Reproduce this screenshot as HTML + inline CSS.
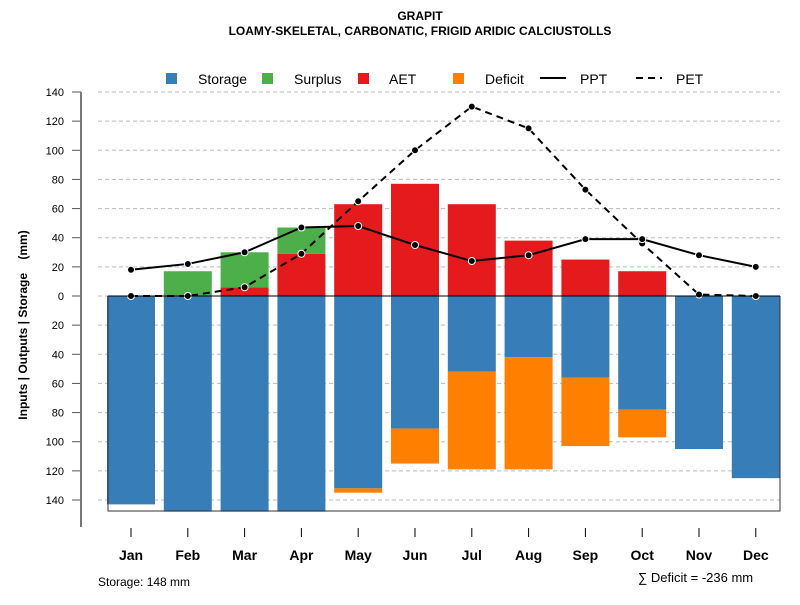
<!DOCTYPE html>
<html><head><meta charset="utf-8"><style>
body{margin:0;background:#fff;}
svg{font-family:"Liberation Sans",sans-serif;}
</style></head><body>
<svg id="c" width="800" height="600">
<text x="420" y="20" text-anchor="middle" font-size="12" font-weight="bold">GRAPIT</text>
<text x="420" y="35" text-anchor="middle" font-size="12" font-weight="bold">LOAMY-SKELETAL, CARBONATIC, FRIGID ARIDIC CALCIUSTOLLS</text>
<g id="grid"></g><g id="bars"></g><g id="lines"></g><g id="axes"></g>
<g font-size="14">
<rect x="166" y="73" width="11" height="11" fill="#377eb8"/><text x="198" y="84">Storage</text>
<rect x="262" y="73" width="11" height="11" fill="#4daf4a"/><text x="294" y="84">Surplus</text>
<rect x="358" y="73" width="11" height="11" fill="#e41a1c"/><text x="389" y="84">AET</text>
<rect x="453" y="73" width="11" height="11" fill="#ff7f00"/><text x="485" y="84">Deficit</text>
<line x1="540" y1="78" x2="566" y2="78" stroke="#000" stroke-width="2"/><text x="580" y="84">PPT</text>
<line x1="636" y1="78" x2="662" y2="78" stroke="#000" stroke-width="2" stroke-dasharray="7,5"/><text x="676" y="84">PET</text>
</g>
<text transform="translate(27,325) rotate(-90)" text-anchor="middle" font-size="12" font-weight="bold" style="white-space:pre">Inputs | Outputs | Storage    (mm)</text>
<text x="98" y="586" font-size="12">Storage: 148 mm</text>
<text x="638" y="582" font-size="13">∑ Deficit = -236 mm</text>
</svg>
<script>
const months=["Jan","Feb","Mar","Apr","May","Jun","Jul","Aug","Sep","Oct","Nov","Dec"];
const storage=[143,148,148,148,132,91,52,42,56,78,105,125];
const deficit=[0,0,0,0,3,24,67,77,47,19,0,0];
const aet=[0,0,6,29,63,77,63,38,25,17,0,0];
const surplus=[0,17,24,18,0,0,0,0,0,0,0,0];
const ppt=[18,22,30,47,48,35,24,28,39,39,28,20];
const pet=[0,0,6,29,65,100,130,115,73,36,1,0];
const yTicks=[140,120,100,80,60,40,20,0,-20,-40,-60,-80,-100,-120,-140];
const NS="http://www.w3.org/2000/svg";
const y=v=>296-v*204/140;
const x=i=>131+i*56.8;
const bw=48;
function mk(p,t,a){const e=document.createElementNS(NS,t);for(const k in a)e.setAttribute(k,a[k]);document.getElementById(p).appendChild(e);return e;}
yTicks.forEach(t=>{
 const g=mk('grid','line',{x1:98,x2:780,y1:y(t),y2:y(t),stroke:'#bbb','stroke-dasharray':'4,3'});
 
 
 const tk=mk('axes','line',{x1:72,x2:81,y1:y(t),y2:y(t),stroke:'#555'});
 
 
 const l=mk('axes','text',{x:64,y:y(t)+4,'text-anchor':'end','font-size':11});
 l.textContent=Math.abs(t);
 
 
});
months.forEach((m,i)=>{
 const cx=x(i),x0=cx-bw/2;
 const s=mk('bars','rect',{x:x0,y:y(0),width:bw,height:y(-storage[i])-y(0),fill:'#377eb8'});
 
 
 if(deficit[i]>0){const d=mk('bars','rect',{x:x0,y:y(-storage[i]),width:bw,height:y(-storage[i]-deficit[i])-y(-storage[i]),fill:'#ff7f00'});
 
 }
 if(aet[i]>0){const a=mk('bars','rect',{x:x0,y:y(aet[i]),width:bw,height:y(0)-y(aet[i]),fill:'#e41a1c'});
 
 }
 if(surplus[i]>0){const u=mk('bars','rect',{x:x0,y:y(aet[i]+surplus[i]),width:bw,height:y(aet[i])-y(aet[i]+surplus[i]),fill:'#4daf4a'});
 
 }
 const tk=mk('axes','line',{x1:cx,x2:cx,y1:528,y2:537,stroke:'#000'});
 
 
 const l=mk('axes','text',{x:cx,y:560,'text-anchor':'middle','font-size':14,'font-weight':'bold'});
 l.textContent=m;
 
 
});
const bx=mk('axes','path',{d:'M108 296 V511 H780 V296',fill:'none',stroke:'#333'});


const zl=mk('axes','line',{x1:108,x2:780,y1:296,y2:296,stroke:'#000'});


const ax=mk('axes','line',{x1:81,x2:81,y1:92,y2:527,stroke:'#777','stroke-width':2});


[[pet,'pet','7,5'],[ppt,'ppt','']].forEach(([d,n,da])=>{
 const p=mk('lines','polyline',{points:d.map((v,i)=>x(i)+','+y(v)).join(' '),fill:'none',stroke:'#000','stroke-width':2,'stroke-dasharray':da});
 
 
 d.forEach((v,i)=>{const c=mk('lines','circle',{cx:x(i),cy:y(v),r:3.5,fill:'#000',stroke:'#fff','stroke-width':1});
 
 });
});
</script>
</body></html>
